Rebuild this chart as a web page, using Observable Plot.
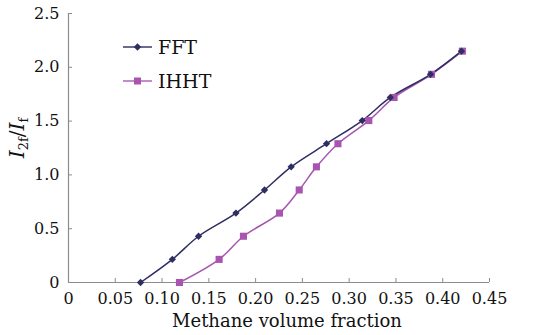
<!DOCTYPE html>
<html>
<head>
<meta charset="utf-8">
<script src="https://cdn.jsdelivr.net/npm/d3@7"></script>
<script src="https://cdn.jsdelivr.net/npm/@observablehq/plot@0.6"></script>
<style>
  html, body { margin: 0; padding: 0; background: #fff; }
  #wrap { position: relative; width: 551px; height: 335px; overflow: hidden; font-family: "DejaVu Serif", serif; color: #111; }
  #chart { position: absolute; left: 0; top: 0; }
  .ylab { position: absolute; left: 18px; top: 138px; transform: translate(-50%, -50%) rotate(-90deg); white-space: nowrap; font-size: 20px; }
  .ylab i { font-style: italic; }
  .ylab sub { font-size: 13px; vertical-align: -4px; }
  .xlab { position: absolute; left: 287px; top: 310px; transform: translateX(-50%); white-space: nowrap; font-size: 18px; }
  .leg { position: absolute; left: 123px; font-size: 19px; display: flex; align-items: center; }
  .leg svg { margin-right: 5px; }
</style>
</head>
<body>
<div id="wrap">
  <div id="chart"></div>
  <div class="ylab"><i>I</i><sub>2f</sub>/<i>I</i><sub>f</sub></div>
  <div class="xlab">Methane volume fraction</div>
  <div class="leg" style="top:35px"><svg width="30" height="24"><line x1="0" y1="12" x2="29" y2="12" stroke="#3a3a6e" stroke-width="1.5"/><path d="M14.5,8.3L18.2,12L14.5,15.7L10.8,12Z" fill="#2e2e62"/></svg>FFT</div>
  <div class="leg" style="top:69px"><svg width="30" height="24"><line x1="0" y1="12" x2="29" y2="12" stroke="#b066b8" stroke-width="1.5"/><rect x="11" y="8.5" width="7" height="7" fill="#a854b0"/></svg>IHHT</div>
</div>
<script>
const fftX  = [0.077, 0.111, 0.139, 0.179, 0.2095, 0.238, 0.2758, 0.314, 0.344, 0.387, 0.420];
const fftY  = [0, 0.215, 0.43, 0.645, 0.86, 1.075, 1.29, 1.505, 1.72, 1.935, 2.15];
const ihhtX = [0.1186, 0.161, 0.187, 0.2255, 0.2466, 0.265, 0.288, 0.321, 0.348, 0.388, 0.421];
const ihhtY = [0, 0.215, 0.43, 0.645, 0.86, 1.075, 1.29, 1.505, 1.72, 1.935, 2.15];
const xTicks = [0, 0.05, 0.10, 0.15, 0.20, 0.25, 0.30, 0.35, 0.40, 0.45];
const xTickLabels = ["0", "0.05", "0.10", "0.15", "0.20", "0.25", "0.30", "0.35", "0.40", "0.45"];
const yTicks = [0, 0.5, 1.0, 1.5, 2.0, 2.5];
const yTickLabels = ["0", "0.5", "1.0", "1.5", "2.0", "2.5"];

const fft = fftX.map((x, i) => ({x, y: fftY[i]}));
const ihht = ihhtX.map((x, i) => ({x, y: ihhtY[i]}));

const FFT_C = "#2e2e62", IHHT_C = "#a854b0", AXIS_C = "#8c8c8c";

const plot = Plot.plot({
  width: 551,
  height: 335,
  marginLeft: 68,
  marginRight: 62,
  marginTop: 13,
  marginBottom: 53,
  style: { fontFamily: "DejaVu Serif, serif", fontSize: "16px", color: "#111", background: "transparent" },
  x: { domain: [0, 0.45], ticks: xTicks, tickFormat: (d, i) => xTickLabels[i], label: null },
  y: { domain: [0, 2.5], ticks: yTicks, tickFormat: (d, i) => yTickLabels[i], label: null },
  marks: [
    Plot.ruleX([0], {stroke: AXIS_C, strokeWidth: 1.2}),
    Plot.ruleY([0], {stroke: AXIS_C, strokeWidth: 1.2}),
    Plot.axisX({ticks: xTicks, tickSize: -4, tickPadding: 14, stroke: AXIS_C, fill: "#111", tickFormat: (d, i) => xTickLabels[i], label: null}),
    Plot.axisY({ticks: yTicks, tickSize: -4, tickPadding: 13, stroke: AXIS_C, fill: "#111", tickFormat: (d, i) => yTickLabels[i], label: null}),
    Plot.line(ihht, {x: "x", y: "y", stroke: IHHT_C, strokeWidth: 1.5, curve: "catmull-rom"}),
    Plot.line(fft, {x: "x", y: "y", stroke: FFT_C, strokeWidth: 1.5, curve: "catmull-rom"}),
    Plot.dot(ihht, {x: "x", y: "y", symbol: "square", r: 4, fill: IHHT_C, stroke: "none"}),
    Plot.dot(fft, {x: "x", y: "y", symbol: "diamond2", r: 3.3, fill: FFT_C, stroke: "none"})
  ]
});
document.getElementById("chart").appendChild(plot);
</script>
</body>
</html>
